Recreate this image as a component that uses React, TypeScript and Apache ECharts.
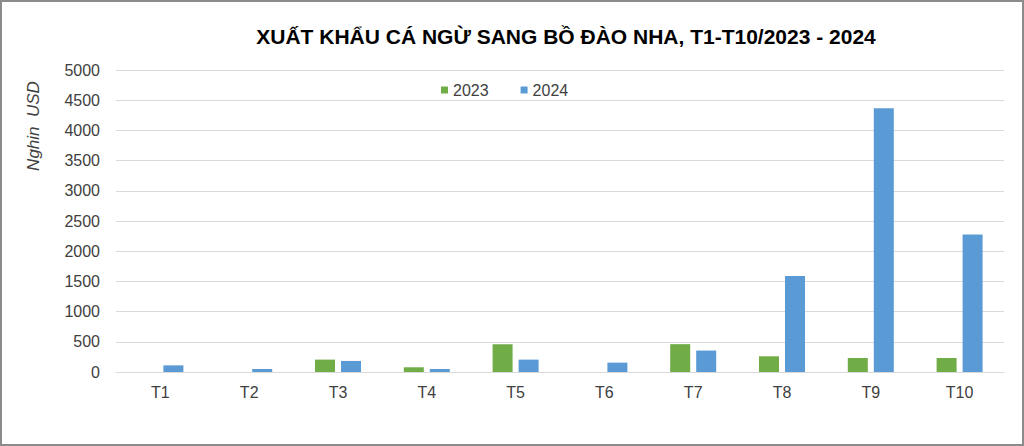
import React, { useEffect, useRef } from "react";
import * as echarts from "echarts";

const categories = ["T1", "T2", "T3", "T4", "T5", "T6", "T7", "T8", "T9", "T10"];
const series2023 = [0, 0, 205, 78, 461, 0, 461, 260, 232, 232];
const series2024 = [110, 50, 183, 50, 205, 155, 355, 1591, 4365, 2276];
const yTicks = { min: 0, max: 5000, interval: 500 };

export default function App() {
  const ref = useRef<HTMLDivElement>(null);
  useEffect(() => {
    document.body.style.margin = "0";
    const chart = echarts.init(ref.current!, null, { renderer: "svg" });
    chart.setOption({
      animation: false,
      backgroundColor: "#ffffff",
      textStyle: { fontFamily: "Liberation Sans, Arial, sans-serif" },
      title: {
        text: "XUẤT KHẨU CÁ NGỪ SANG BỒ ĐÀO NHA, T1-T10/2023 - 2024",
        left: 561,
        textAlign: "center",
        top: 21,
        textStyle: { fontSize: 21, fontWeight: "bold", color: "#000000", fontFamily: "Liberation Sans, Arial, sans-serif" },
      },
      legend: {
        data: ["2023", "2024"],
        left: 436,
        top: 77,
        icon: "rect",
        itemWidth: 7,
        itemHeight: 7,
        itemGap: 32,
        textStyle: { fontSize: 16, color: "#404040" },
      },
      grid: { left: 116, right: 20, top: 70, bottom: 74, containLabel: false },
      xAxis: {
        type: "category",
        data: categories,
        axisLine: { lineStyle: { color: "#d9d9d9", width: 1 } },
        axisTick: { show: false },
        axisLabel: { fontSize: 16, color: "#404040", margin: 12 },
      },
      yAxis: {
        type: "value",
        min: yTicks.min,
        max: yTicks.max,
        interval: yTicks.interval,
        axisLine: { show: false },
        axisTick: { show: false },
        splitLine: { lineStyle: { color: "#d9d9d9", width: 1 } },
        axisLabel: { fontSize: 16, color: "#404040", margin: 16, formatter: (v: number) => String(v) },
      },
      graphic: [
        {
          type: "text",
          x: 33,
          y: 126,
          rotation: Math.PI / 2,
          style: {
            text: "Nghin  USD",
            fontSize: 17,
            fontStyle: "italic",
            fill: "#404040",
            align: "center",
            verticalAlign: "middle",
            fontFamily: "Liberation Sans, Arial, sans-serif",
          },
        },
        {
          type: "rect",
          shape: { x: 1, y: 1, width: 1022, height: 444 },
          style: { fill: "none", stroke: "#8c8c8c", lineWidth: 2 },
          silent: true,
        },
      ],
      series: [
        {
          name: "2023",
          type: "bar",
          data: series2023,
          barWidth: 20,
          barGap: "30%",
          itemStyle: { color: "#70AD47" },
        },
        {
          name: "2024",
          type: "bar",
          data: series2024,
          barWidth: 20,
          itemStyle: { color: "#5B9BD5" },
        },
      ],
    });
    return () => chart.dispose();
  }, []);
  return <div ref={ref} style={{ width: 1024, height: 446 }} />;
}
